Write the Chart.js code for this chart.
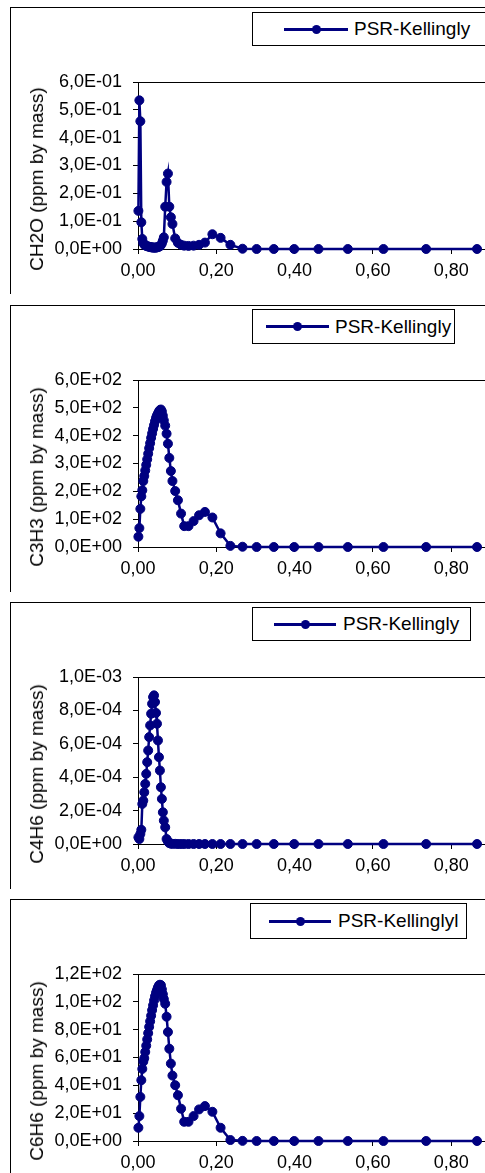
<!DOCTYPE html>
<html>
<head>
<meta charset="utf-8">
<script src="https://cdn.jsdelivr.net/npm/chart.js@4.4.1/dist/chart.umd.min.js"></script>
<style>
  html, body { margin: 0; padding: 0; background: #fff; overflow: hidden; }
  body { width: 485px; height: 1173px; position: relative; font-family: "Liberation Sans", Arial, sans-serif; }
  .panel { position: absolute; left: 10px; width: 560px; height: 286px; border-top: 1px solid #000; border-left: 1px solid #000; }
  .panel canvas { position: absolute; left: 0; top: 0; }
  .ytitle { position: absolute; left: 27px; font-size: 19px; white-space: nowrap; color: #000;
            transform: translate(-50%, -50%) rotate(-90deg); }
  .legend { position: absolute; border: 1px solid #000; background: #fff; }
  .legend .ln { position: absolute; height: 3px; background: #000080; }
  .legend .dot { position: absolute; width: 9px; height: 9px; border-radius: 50%; background: #000080; }
  .legend .txt { position: absolute; top: 0; font-size: 19px; color: #000; white-space: nowrap; }
</style>
</head>
<body>
<script>
// x values (shared by all four series)
const xVals = [0.001, 0.0035, 0.006, 0.0085, 0.011, 0.0135, 0.016, 0.0185, 0.021, 0.0235,
  0.026, 0.0285, 0.031, 0.0335, 0.036, 0.0385, 0.041, 0.0435, 0.046, 0.0485,
  0.051, 0.0535, 0.056, 0.0585, 0.061, 0.0635, 0.066, 0.0695, 0.073, 0.0765,
  0.080, 0.084, 0.088, 0.095, 0.102, 0.110, 0.118, 0.129, 0.142, 0.156,
  0.171, 0.190, 0.211, 0.236, 0.267, 0.303, 0.347, 0.399, 0.461, 0.536,
  0.627, 0.736, 0.866];

const ch2o = [0.137, 0.534, 0.459, 0.096, 0.036, 0.022, 0.016, 0.013, 0.011, 0.010,
  0.009, 0.008, 0.007, 0.006, 0.006, 0.005, 0.005, 0.005, 0.005, 0.006,
  0.007, 0.008, 0.010, 0.014, 0.020, 0.030, 0.042, 0.152, 0.241, 0.271,
  0.152, 0.114, 0.090, 0.038, 0.022, 0.015, 0.012, 0.011, 0.012, 0.015,
  0.023, 0.053, 0.040, 0.015, 0.001, 0, 0, 0, 0, 0,
  0, 0, 0];

const c3h3 = [37, 68, 137, 182, 204, 237, 255, 275, 295, 315,
  335, 355, 373, 392, 408, 424, 438, 452, 464, 473,
  480, 487, 492, 494, 487, 472, 455, 436, 407, 371,
  320, 273, 237, 201, 168, 120, 75, 75, 93, 114,
  126, 106, 49, 4, 1, 0, 0, 0, 0, 0,
  0, 0, 0];

const c4h6 = [0.4e-4, 0.3e-4, 0.6e-4, 0.85e-4, 2.4e-4, 2.6e-4, 3.1e-4, 3.6e-4, 4.2e-4, 4.9e-4,
  5.6e-4, 6.4e-4, 7.1e-4, 7.8e-4, 8.4e-4, 8.8e-4, 8.9e-4, 8.5e-4, 7.85e-4, 7.2e-4,
  6.2e-4, 5.2e-4, 4.4e-4, 3.4e-4, 2.7e-4, 1.9e-4, 1.4e-4, 1.0e-4, 0.3e-4, 0.15e-4,
  0.05e-4, 0.02e-4, 0.01e-4, 0.01e-4, 0, 0, 0, 0, 0, 0,
  0, 0, 0, 0, 0, 0, 0, 0, 0, 0,
  0, 0, 0];

const c6h6 = [9.5, 17.9, 31.7, 43.7, 51.8, 57, 59.5, 64, 68.5, 73,
  77.5, 82, 86, 90, 94, 97.5, 101, 104, 106.5, 108.5,
  110.5, 111.8, 112.3, 112, 109, 105.5, 102, 98.6, 89.3, 78.3,
  66.3, 55.6, 47, 40.1, 32.9, 23.2, 13.8, 13.8, 17.9, 22.7,
  25.1, 21, 9.5, 0.7, 0.1, 0, 0, 0, 0, 0,
  0, 0, 0];

const series = [ch2o, c3h3, c4h6, c6h6];
const yTitles = ['CH2O (ppm by mass)', 'C3H3 (ppm by mass)', 'C4H6 (ppm by mass)', 'C6H6 (ppm by mass)'];
const legendNames = ['PSR-Kellingly', 'PSR-Kellingly', 'PSR-Kellingly', 'PSR-Kellinglyl'];
const yMaxes = [0.6, 600, 0.001, 120];
const ySteps = [0.1, 100, 0.0002, 20];
const xMax = 1.0;
const xStep = 0.2;

// layout of each panel (page pixels)
const panelTops = [7, 305, 602, 899];
const legendBoxes = [
  { left: 252, top: 12, w: 300, h: 32, line: 31, lineW: 64, text: 101, openRight: true },
  { left: 252, top: 309, w: 201, h: 33, line: 13, lineW: 63, text: 82 },
  { left: 252, top: 607, w: 217, h: 32, line: 21, lineW: 62, text: 90 },
  { left: 250, top: 903, w: 215, h: 34, line: 18, lineW: 62, text: 87 }
];

function fmtE(v) {
  const parts = v.toExponential(1).split('e');
  const sign = parts[1][0] === '-' ? '-' : '+';
  const exp = parts[1].replace(/[+-]/, '').padStart(2, '0');
  return parts[0].replace('.', ',') + 'E' + sign + exp;
}

const plotFrame = {
  id: 'plotFrame',
  beforeDatasetsDraw(chart) {
    const { ctx, chartArea: a } = chart;
    ctx.save();
    ctx.strokeStyle = '#000';
    ctx.lineWidth = 1;
    ctx.beginPath();
    ctx.moveTo(a.left, Math.round(a.top) + 0.5);
    ctx.lineTo(Math.round(a.right) + 0.5, Math.round(a.top) + 0.5);
    ctx.lineTo(Math.round(a.right) + 0.5, a.bottom);
    ctx.stroke();
    ctx.restore();
  }
};

const CW = 542, CH = 286;

series.forEach((vals, i) => {
  const top = panelTops[i];
  const panel = document.createElement('div');
  panel.className = 'panel';
  panel.style.top = top + 'px';
  document.body.appendChild(panel);

  const canvas = document.createElement('canvas');
  canvas.width = CW;
  canvas.height = CH;
  canvas.style.width = CW + 'px';
  canvas.style.height = CH + 'px';
  panel.appendChild(canvas);

  const title = document.createElement('div');
  title.className = 'ytitle';
  title.style.top = (top + 172) + 'px';
  title.style.left = '37px';
  title.textContent = yTitles[i];
  document.body.appendChild(title);

  const lb = legendBoxes[i];
  const leg = document.createElement('div');
  leg.className = 'legend';
  leg.style.left = lb.left + 'px';
  leg.style.top = lb.top + 'px';
  leg.style.width = lb.w + 'px';
  leg.style.height = lb.h + 'px';
  if (lb.openRight) leg.style.borderRight = 'none';
  leg.innerHTML =
    `<div class="ln" style="left:${lb.line}px;width:${lb.lineW}px;top:${lb.h / 2 - 1.5}px"></div>` +
    `<div class="dot" style="left:${lb.line + lb.lineW / 2 - 4.5}px;top:${lb.h / 2 - 4.5}px"></div>` +
    `<span class="txt" style="left:${lb.text}px;line-height:${lb.h}px">${legendNames[i]}</span>`;
  document.body.appendChild(leg);

  new Chart(canvas.getContext('2d'), {
    type: 'line',
    data: {
      datasets: [{
        label: legendNames[i],
        data: xVals.map((x, k) => ({ x: x, y: vals[k] })),
        borderColor: '#000080',
        backgroundColor: '#000080',
        borderWidth: 2.5,
        pointRadius: 4.5,
        pointBorderWidth: 1,
        pointBackgroundColor: '#000080',
        pointBorderColor: '#000080',
        tension: 0,
        clip: false
      }]
    },
    options: {
      responsive: false,
      animation: false,
      devicePixelRatio: 1,
      layout: { padding: { top: 74, right: 20, left: 0, bottom: 0 } },
      plugins: { legend: { display: false }, tooltip: { enabled: false } },
      scales: {
        x: {
          type: 'linear',
          min: 0,
          max: xMax,
          afterFit: s => { s.height = CH - 74 - 167; },
          grid: { drawOnChartArea: false, drawTicks: true, tickLength: 5, color: '#000' },
          border: { display: true, color: '#000', width: 1 },
          ticks: {
            stepSize: xStep,
            maxRotation: 0,
            autoSkip: false,
            padding: 6,
            color: '#000',
            font: { family: '"Liberation Sans", Arial, sans-serif', size: 18 },
            callback: v => v.toFixed(2).replace('.', ',')
          }
        },
        y: {
          min: 0,
          max: yMaxes[i],
          afterFit: s => { s.width = 127; },
          grid: { drawOnChartArea: false, drawTicks: true, tickLength: 5, color: '#000' },
          border: { display: true, color: '#000', width: 1 },
          ticks: {
            stepSize: ySteps[i],
            padding: 11,
            color: '#000',
            font: { family: '"Liberation Sans", Arial, sans-serif', size: 18 },
            callback: v => fmtE(v)
          }
        }
      }
    },
    plugins: [plotFrame]
  });
});
</script>
</body>
</html>
